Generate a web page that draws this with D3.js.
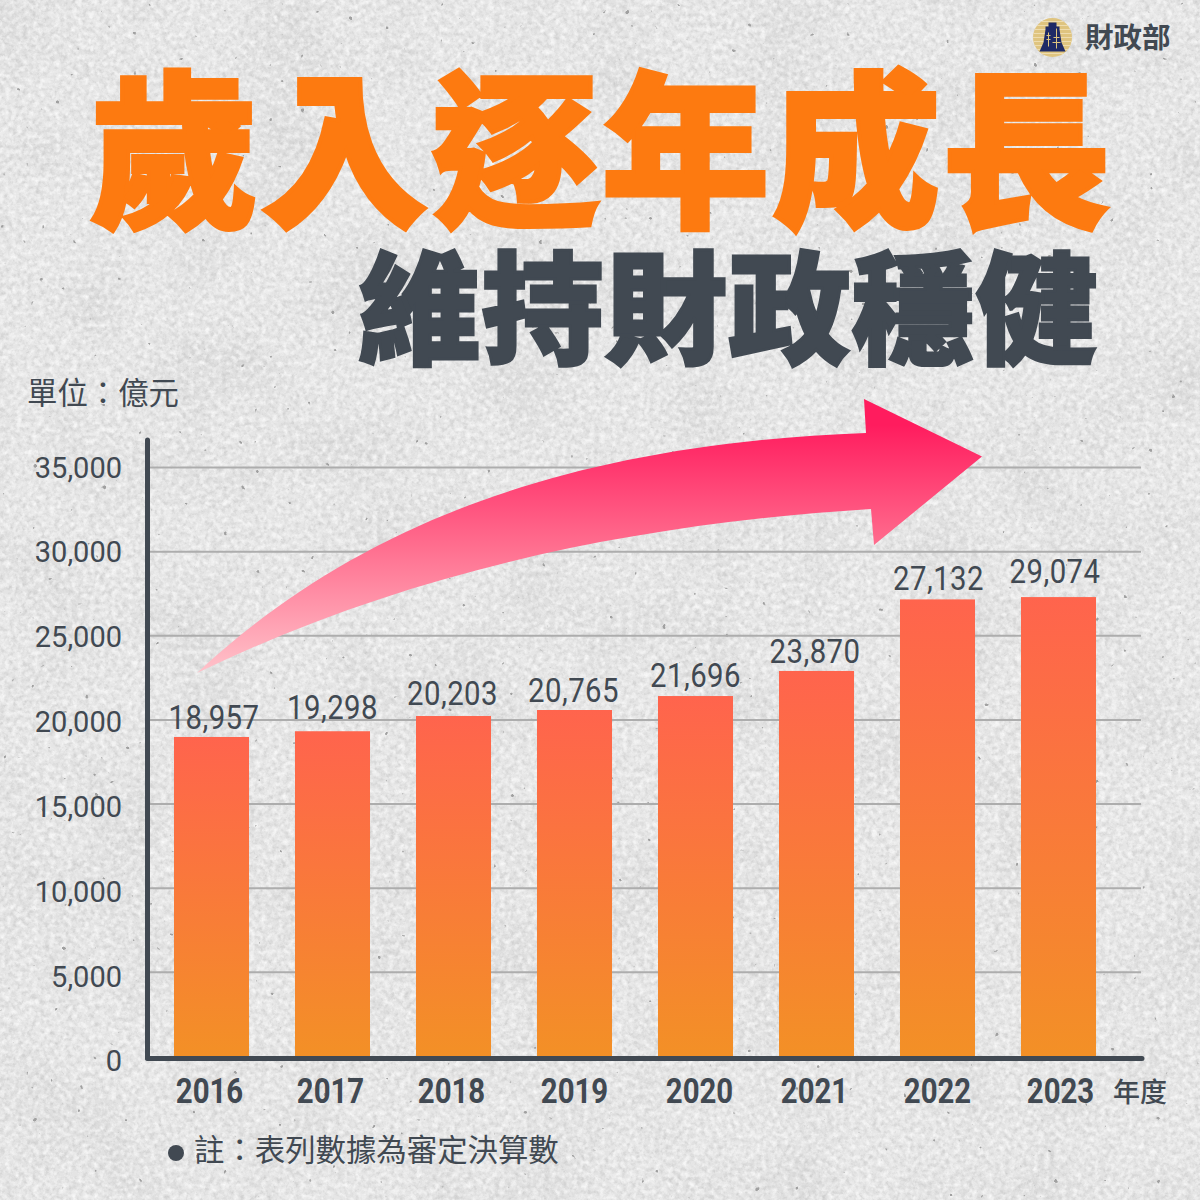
<!DOCTYPE html>
<html lang="zh-Hant">
<head>
<meta charset="utf-8">
<title>歲入逐年成長</title>
<script src="https://cdn.jsdelivr.net/npm/d3@7"></script>
<style>
  html, body { margin: 0; padding: 0; background: #e5e5e5; }
  svg { display: block; }
  text { font-family: "Noto Sans CJK TC", sans-serif; fill: #414952; }
  .num { font-family: Roboto, sans-serif; }
</style>
</head>
<body>
<div id="chart"></div>
<script>
const years = ['2016', '2017', '2018', '2019', '2020', '2021', '2022', '2023'];
// heights of the bars as drawn in the picture (they do not always agree with the printed labels)
const barValues = [18957, 19298, 20203, 20560, 21390, 22880, 27132, 27270];
const barLabels = ['18,957', '19,298', '20,203', '20,765', '21,696', '23,870', '27,132', '29,074'];
const yTicks = [0, 5000, 10000, 15000, 20000, 25000, 30000, 35000];

// small hand offsets, the labels in the picture are not quite centred
const yearNudge = [-2, -2, -2, 0, 4, -2, 0, 2];
const labelNudge = [2.5, 0, -1, -1, 0, -1.5, 1, -3.5];
const labelLift = [8, 12, 11, 8, 9, 8, 9, 14];

const width = 1200;
const height = 1200;

const svg = d3.select('#chart').append('svg')
  .attr('width', width)
  .attr('height', height);

const defs = svg.append('defs');

// paper texture
function noiseFilter(id, freq, octaves, seed, matrix) {
  let f = defs.append('filter').attr('id', id)
    .attr('x', 0).attr('y', 0).attr('width', '100%').attr('height', '100%');
  f.append('feTurbulence')
    .attr('type', 'fractalNoise')
    .attr('baseFrequency', freq)
    .attr('numOctaves', octaves)
    .attr('seed', seed);
  f.append('feColorMatrix').attr('values', matrix);
}
noiseFilter('grainDark', 0.22, 4, 7, '0 0 0 0 0.5  0 0 0 0 0.5  0 0 0 0 0.5  1.1 0 0 0 -0.44');
noiseFilter('grainLight', 0.18, 4, 21, '0 0 0 0 1  0 0 0 0 1  0 0 0 0 1  0 1.5 0 0 -0.58');
noiseFilter('blotch', 0.012, 3, 4, '0 0 0 0 0.55  0 0 0 0 0.55  0 0 0 0 0.55  0.7 0 0 0 -0.3');
noiseFilter('specks', 0.13, 2, 13, '0 0 0 0 0.35  0 0 0 0 0.35  0 0 0 0 0.35  18 0 0 0 -14.4');

svg.append('rect').attr('width', width).attr('height', height).attr('fill', '#e6e6e6');
['blotch', 'grainDark', 'grainLight', 'specks'].forEach(id => {
  svg.append('rect').attr('width', width).attr('height', height).attr('filter', `url(#${id})`);
});

// gradients
let barGrad = defs.append('linearGradient').attr('id', 'barGrad')
  .attr('x1', 0).attr('y1', 0).attr('x2', 0).attr('y2', 1);
barGrad.append('stop').attr('offset', 0).attr('stop-color', '#ff644d');
barGrad.append('stop').attr('offset', 1).attr('stop-color', '#f39026');

let arrowGrad = defs.append('linearGradient').attr('id', 'arrowGrad')
  .attr('gradientUnits', 'userSpaceOnUse')
  .attr('x1', 0).attr('y1', 425).attr('x2', 0).attr('y2', 675);
arrowGrad.append('stop').attr('offset', 0).attr('stop-color', '#ff1c5e');
arrowGrad.append('stop').attr('offset', 0.48).attr('stop-color', '#ff6d8e');
arrowGrad.append('stop').attr('offset', 1).attr('stop-color', '#ffc4cb');

// scales
const x = d3.scaleBand().domain(years).range([151, 1119]).paddingInner(0.38).paddingOuter(0.19);
const y = d3.scaleLinear().domain([0, 35000]).range([1056, 467]);

// y axis and grid
let yAxis = svg.append('g')
  .attr('transform', 'translate(150,0)')
  .call(d3.axisLeft(y).tickValues(yTicks).tickFormat(d3.format(',')).tickSize(-991).tickPadding(28));
yAxis.select('.domain').remove();
yAxis.selectAll('.tick line')
  .attr('stroke', '#adadad')
  .attr('stroke-width', 2)
  .filter(d => d === 0).remove();
yAxis.selectAll('.tick text')
  .attr('class', 'num')
  .attr('y', d => (35000 - d) / 5000 * 0.7 - 1)
  .attr('dy', '0.38em')
  .attr('fill', '#414952')
  .style('font-size', '29px');

// bars
svg.append('g').selectAll('rect')
  .data(years)
  .join('rect')
  .attr('x', d => x(d))
  .attr('y', (d, i) => y(barValues[i]))
  .attr('width', x.bandwidth())
  .attr('height', (d, i) => y(0) - y(barValues[i]))
  .attr('fill', 'url(#barGrad)');

// value labels, squeezed because no condensed face is installed
svg.append('g').selectAll('text')
  .data(years)
  .join('text')
  .attr('class', 'num')
  .attr('transform', (d, i) => {
    let cx = x(d) + x.bandwidth() / 2 + labelNudge[i];
    return `translate(${cx},${y(barValues[i]) - labelLift[i]}) scale(0.89,1)`;
  })
  .attr('text-anchor', 'middle')
  .style('font-size', '33px')
  .style('letter-spacing', '0.5px')
  .text((d, i) => barLabels[i]);

// x axis
let xAxis = svg.append('g')
  .attr('transform', 'translate(0,1058)')
  .call(d3.axisBottom(x).tickSize(0).tickPadding(20));
xAxis.select('.domain').remove();
xAxis.selectAll('.tick text')
  .attr('class', 'num')
  .attr('transform', (d, i) => `translate(${yearNudge[i]},0) scale(0.84,1)`)
  .attr('fill', '#414952')
  .style('font-size', '35px')
  .style('font-weight', 700);

// axis lines
svg.append('line')
  .attr('x1', 147.5).attr('x2', 147.5).attr('y1', 440).attr('y2', 1058)
  .attr('stroke', '#414952').attr('stroke-width', 5).attr('stroke-linecap', 'round');
svg.append('line')
  .attr('x1', 147.5).attr('x2', 1142).attr('y1', 1058.5).attr('y2', 1058.5)
  .attr('stroke', '#414952').attr('stroke-width', 5).attr('stroke-linecap', 'round');

// rising arrow
let arrow = d3.path();
arrow.moveTo(197, 673);
arrow.bezierCurveTo(340, 540, 540, 445, 866, 433);
arrow.lineTo(864, 399);
arrow.lineTo(982, 456.5);
arrow.lineTo(874, 545);
arrow.lineTo(871, 509);
arrow.bezierCurveTo(620, 525, 400, 575, 197, 673);
arrow.closePath();
svg.append('path').attr('d', arrow.toString()).attr('fill', 'url(#arrowGrad)');

// headline
svg.append('text')
  .attr('x', 90).attr('y', 214)
  .style('font-size', '168px')
  .style('font-weight', 900)
  .style('letter-spacing', '2.5px')
  .style('fill', '#fd7a10')
  .style('stroke', '#fd7a10')
  .style('stroke-width', 4)
  .style('stroke-linejoin', 'miter')
  .text('歲入逐年成長');

svg.append('text')
  .attr('x', 358).attr('y', 354)
  .style('font-size', '122px')
  .style('font-weight', 900)
  .style('letter-spacing', '1.5px')
  .style('fill', '#414952')
  .style('stroke', '#414952')
  .style('stroke-width', 3)
  .style('stroke-linejoin', 'miter')
  .text('維持財政穩健');

// notes
svg.append('text').attr('x', 27).attr('y', 404)
  .style('font-size', '30.4px')
  .text('單位：億元');
svg.append('text').attr('x', 1113).attr('y', 1102)
  .style('font-size', '27px').style('font-weight', 500)
  .text('年度');
svg.append('circle').attr('cx', 176).attr('cy', 1153).attr('r', 8).attr('fill', '#414952');
svg.append('text').attr('x', 194).attr('y', 1161)
  .style('font-size', '30.4px')
  .text('註：表列數據為審定決算數');

// ministry badge
let badge = svg.append('g').attr('transform', 'translate(1052.5,37.5)');
badge.append('circle').attr('r', 19.5).attr('fill', '#dfc47f');
d3.range(-16, 18, 4).forEach(dy => {
  let half = Math.sqrt(19.5 * 19.5 - dy * dy);
  badge.append('line').attr('x1', -half).attr('x2', half).attr('y1', dy).attr('y2', dy)
    .attr('stroke', '#eedcae').attr('stroke-width', 1);
});
badge.append('path')
  .attr('d', 'M-4 -15 H4 V-11 H7 L7 -8 L9 5 L13 14 H-13 L-9 5 L-7 -8 L-7 -11 H-4 Z')
  .attr('fill', '#1f2a66');
badge.append('path')
  .attr('d', 'M-4 -5 V9 M4 -9 V11 M-6 -2 H-2 M-6 2 H-2 M1 0 H7 M0 5 H8')
  .attr('stroke', '#dfc47f').attr('stroke-width', 1).attr('fill', 'none');
svg.append('text').attr('x', 1085).attr('y', 48)
  .style('font-size', '28.5px').style('font-weight', 700)
  .text('財政部');
</script>
</body>
</html>
